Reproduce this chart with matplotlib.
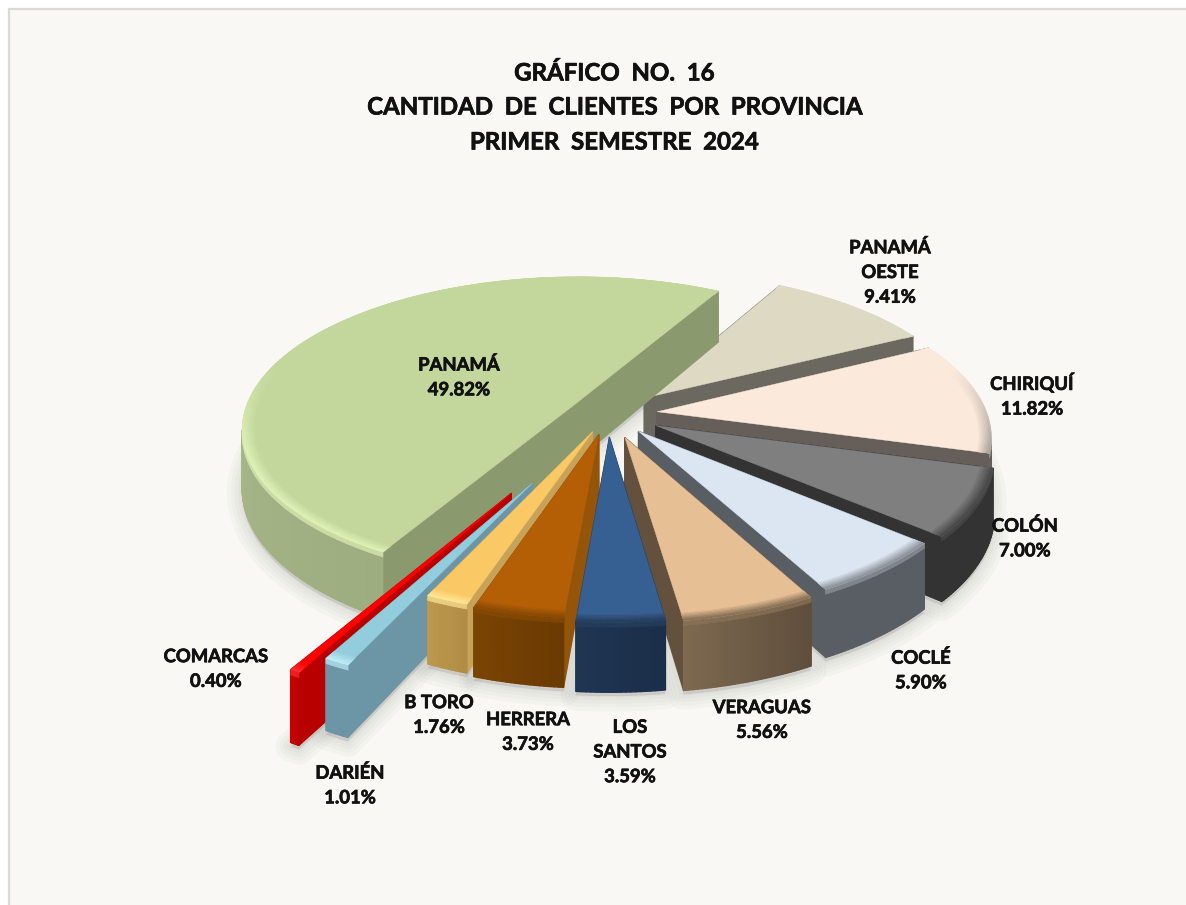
import numpy as np
import matplotlib
matplotlib.use("Agg")
import matplotlib.pyplot as plt
import matplotlib.patheffects as pe
from matplotlib.collections import PolyCollection
from matplotlib.colors import to_rgb
from matplotlib.patches import Rectangle

# ---------- data ----------
provinces = ["PANAMÁ", "PANAMÁ\nOESTE", "CHIRIQUÍ", "COLÓN", "COCLÉ", "VERAGUAS",
             "LOS\nSANTOS", "HERRERA", "B TORO", "DARIÉN", "COMARCAS"]
shares = [49.82, 9.41, 11.82, 7.00, 5.90, 5.56, 3.59, 3.73, 1.76, 1.01, 0.40]
title_lines = ["GRÁFICO  NO.  16", "CANTIDAD  DE  CLIENTES  POR  PROVINCIA", "PRIMER  SEMESTRE  2024"]

# ---------- styles ----------
explode = [0.12, 0.155, 0.15, 0.162, 0.145, 0.16, 0.15, 0.135, 0.125, 0.48, 0.56]
top_col = ["#C3D69B", "#DDD9C3", "#FBE9DB", "#7F7F7F", "#DCE6F2", "#E7BF95",
           "#376092", "#B45F06", "#FAC864", "#93CDDD", "#FF0000"]
rim_col = ["#DDF0B6", "#CFCBB6", "#A89F98", "#4A4A4A", "#8E959C", "#8A7358",
           "#25405F", "#8A4A05", "#FFE594", "#BDEAF5", "#FF2A2A"]
face_col = ["#8A9A6E", "#6B685F", "#665E58", "#333333", "#595E65", "#63503D",
            "#1F3552", "#94540A", "#C7A35A", "#6C95A5", "#B80000"]
wall_a = ["#9DAD80", "#6B685F", "#665E58", "#333333", "#595E65", "#5F4E3C",
          "#1B2E4A", "#6A3A03", "#B08C45", "#6C95A5", "#B80000"]
wall_b = ["#BCCB9E", "#6B685F", "#665E58", "#333333", "#595E65", "#7D6850",
          "#1F3552", "#7A4403", "#BC984E", "#6C95A5", "#C80000"]
draw_order = [1, 0, 2, 3, 4, 5, 10, 9, 8, 7, 6]
label_pos = [(459, 377), (890, 272), (1032, 395), (1025, 538), (921, 670), (762, 720),
             (630, 752), (528, 732), (439, 715), (350, 785), (216, 669)]

W, H_PX = 1186, 905
START = 209.7
CX, CY, RX, RY, DEPTH, THICK = 608.0, 414.0, 330.0, 150.0, 6.7, 58.0

plt.rcParams["font.family"] = ["Lato", "DejaVu Sans"]
fig = plt.figure(figsize=(W / 100, H_PX / 100), dpi=100, facecolor="white")
ax = fig.add_axes([0, 0, 1, 1])
ax.set_xlim(0, W)
ax.set_ylim(H_PX, 0)
ax.axis("off")
ax.add_patch(Rectangle((8.5, 9.5), W + 20, H_PX + 20, facecolor="#F9F8F4",
                       edgecolor="#D9D9D9", linewidth=1.6, zorder=0))


def project(u, v, z=0.0):
    s = DEPTH / (DEPTH + v)
    return np.column_stack((CX + RX * u * s, CY - RY * v * s + THICK * z * s))


def ground(i, r, th):
    m = np.radians(mids[i])
    t = np.radians(th)
    return explode[i] * np.sin(m) + r * np.sin(t), explode[i] * np.cos(m) + r * np.cos(t)


def mix(a, b, f):
    a, b = np.array(to_rgb(a)), np.array(to_rgb(b))
    return tuple(a + (b - a) * f)


total = sum(shares)
edges = START + np.concatenate(([0], np.cumsum(shares))) * 360.0 / total
mids = (edges[:-1] + edges[1:]) / 2

# soft shadow below everything
for i in range(len(shares)):
    th = np.linspace(edges[i], edges[i + 1], 80)
    u, v = ground(i, 1.0, th)
    ut, vt = ground(i, 0.0, edges[i])
    outline = project(np.r_[ut, u], np.r_[vt, v], 1.0)
    for lw in (22, 16, 11, 6, 2):
        ax.fill(outline[:, 0], outline[:, 1] + 4, facecolor=(0, 0, 0, 0.02),
                edgecolor=(0.35, 0.35, 0.33, 0.03), linewidth=lw, joinstyle="round", zorder=1)

z = 2
for i in draw_order:
    th = np.linspace(edges[i], edges[i + 1], max(12, int((edges[i + 1] - edges[i]) * 1.5)))
    # radial faces
    for e in (edges[i], edges[i + 1]):
        u0, v0 = ground(i, 0.0, e)
        u1, v1 = ground(i, 1.0, e)
        quad = np.vstack((project(np.r_[u0, u1], np.r_[v0, v1], 0.0),
                          project(np.r_[u1, u0], np.r_[v1, v0], 1.0)))
        ax.fill(quad[:, 0], quad[:, 1], color=face_col[i], lw=0.8, zorder=z)
        z += 1
    # outer wall: only the segments that face the viewer
    u, v = ground(i, 1.0, th)
    tp, bt = project(u, v, 0.0), project(u, v, 1.0)
    band = project(u, v, 0.07)
    polys, cols, bpolys, bcols = [], [], [], []
    for k in range(len(th) - 1):
        if tp[k + 1, 0] >= tp[k, 0]:
            continue
        f = k / (len(th) - 2)
        c = mix(wall_a[i], wall_b[i], f)
        polys.append(np.vstack((tp[k], tp[k + 1], bt[k + 1], bt[k])))
        cols.append(c)
        bpolys.append(np.vstack((tp[k], tp[k + 1], band[k + 1], band[k])))
        bcols.append(mix(c, rim_col[i], 0.7))
    if polys:
        ax.add_collection(PolyCollection(polys, facecolors=cols, edgecolors=cols, linewidths=1.0, zorder=z))
        z += 1
        ax.add_collection(PolyCollection(bpolys, facecolors=bcols, edgecolors=bcols, linewidths=0.6, zorder=z))
        z += 1
    # top surface
    u0, v0 = ground(i, 0.0, edges[i])
    outline = project(np.r_[u0, u], np.r_[v0, v], 0.0)
    ax.fill(outline[:, 0], outline[:, 1], color=top_col[i], lw=0.3, zorder=z)
    z += 1
    # bevel along the outer edge of the top, fading towards the far side
    steps = np.linspace(0.965, 1.0, 7)
    weight = np.clip((0.3 - np.cos(np.radians(th))) / 0.6, 0, 1)
    for j in range(len(steps) - 1):
        ua, va = ground(i, steps[j], th)
        ub, vb = ground(i, steps[j + 1], th)
        pa, pb = project(ua, va), project(ub, vb)
        polys = [np.vstack((pa[k], pa[k + 1], pb[k + 1], pb[k])) for k in range(len(th) - 1)]
        cs = [mix(top_col[i], rim_col[i], (j + 1) / (len(steps) - 1) * weight[k]) for k in range(len(th) - 1)]
        ax.add_collection(PolyCollection(polys, facecolors=cs, edgecolors=cs, linewidths=0.5, zorder=z))
    z += 1

# labels
stroke = [pe.withStroke(linewidth=0.5, foreground="#111111")]
for name, share, (x, y) in zip(provinces, shares, label_pos):
    ax.text(x, y, f"{name}\n{share:.2f}%", ha="center", va="center", fontsize=13.3,
            fontweight="bold", color="#111111", linespacing=1.55, zorder=z + 1, path_effects=stroke)
for line, y in zip(title_lines, (72, 106, 141)):
    ax.text(614, y + 1, line, ha="center", va="center", fontsize=17.3, fontweight="bold",
            color="#111111", zorder=z + 1, path_effects=stroke)

fig.savefig("out.png", dpi=100, facecolor="white")
